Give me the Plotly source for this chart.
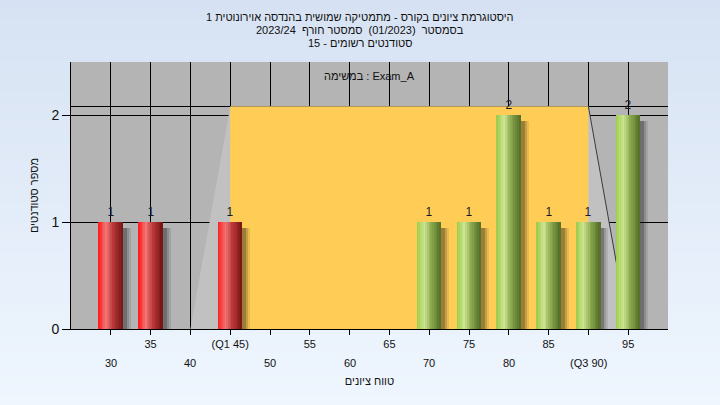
import plotly.graph_objects as go

# ---- data ----
grade_bins = [30, 35, 45, 70, 75, 80, 85, 90, 95]
student_counts = [1, 1, 1, 1, 1, 2, 1, 1, 2]
tick_vals = [30, 35, 40, 45, 50, 55, 60, 65, 70, 75, 80, 85, 90, 95]
tick_row1_vals = [35, 45, 55, 65, 75, 85, 95]
tick_row1_text = ["35", "(Q1 45)", "55", "65", "75", "85", "95"]
tick_row2_vals = [30, 40, 50, 60, 70, 80, 90]
tick_row2_text = ["30", "40", "50", "60", "70", "80", "(Q3 90)"]
q1, q3 = 45, 90
pass_mark = 55
right_axis_ticks = [0, 1]
left_axis_ticks = [0, 1, 2]
y_range = [0, 2.5]
y2_range = [0, 1.2]

title_lines = [
    "היסטוגרמת ציונים בקורס - מתמטיקה שמושית בהנדסה אוירונוטית 1",
    "בסמסטר  (01/2023)  סמסטר חורף  2023/24",
    "סטודנטים רשומים - 15",
]
task_label = "במשימה : Exam_A"
x_title = "טווח ציונים"
y_title = "מספר סטודנטים"

FONT = "Liberation Sans, DejaVu Sans, Arial, sans-serif"

# ---- gradients ----
def lerp(c1, c2, t):
    return tuple(int(round(a + (b - a) * t)) for a, b in zip(c1, c2))

def grad(stops, t):
    for (t0, c0), (t1, c1) in zip(stops, stops[1:]):
        if t0 <= t <= t1:
            return lerp(c0, c1, (t - t0) / (t1 - t0))
    return stops[-1][1]

red_stops = [(0.0, (255, 22, 22)), (0.32, (240, 118, 118)), (0.6, (190, 58, 58)), (1.0, (118, 20, 20))]
green_stops = [(0.0, (152, 202, 72)), (0.32, (205, 228, 145)), (0.6, (140, 170, 80)), (1.0, (82, 108, 38))]

BAR_W = 3.0
N = 14
fig = go.Figure()

# soft shadows
for off, alpha in [(1.0, 0.10), (0.75, 0.15), (0.5, 0.25)]:
    fig.add_trace(go.Bar(
        x=grade_bins, y=[v - 0.05 for v in student_counts],
        width=BAR_W, offset=-BAR_W / 2 + off,
        marker=dict(color=f"rgba(20,20,20,{alpha})", line=dict(width=0)),
        hoverinfo="skip", showlegend=False))

for i in range(N):
    t = (i + 0.5) / N
    cols = ["rgb(%d,%d,%d)" % grad(red_stops if g < pass_mark else green_stops, t) for g in grade_bins]
    fig.add_trace(go.Bar(
        x=grade_bins, y=student_counts,
        width=BAR_W / N + 0.02, offset=-BAR_W / 2 + i * BAR_W / N,
        marker=dict(color=cols, line=dict(width=0)),
        hoverinfo="skip", showlegend=False))

# value labels
fig.add_trace(go.Bar(
    x=grade_bins, y=student_counts, width=BAR_W,
    marker=dict(color="rgba(0,0,0,0)", line=dict(width=0)),
    text=[str(v) for v in student_counts], textposition="outside",
    textfont=dict(family=FONT, size=12, color="#1a1a2a"),
    cliponaxis=False, hoverinfo="skip", showlegend=False))

# ---- background gradient shapes ----
h, w = 405, 720
ml, mr, mt, mb = 71, 52, 62, 76
pw, ph = w - ml - mr, h - mt - mb
shapes = []
NB = 40
top_c, bot_c = (214, 226, 243), (239, 246, 254)
y_lo, y_hi = -mb / ph, 1 + mt / ph
x_lo, x_hi = -ml / pw - 0.02, 1 + mr / pw + 0.02
for k in range(NB):
    y0 = y_lo + (y_hi - y_lo) * k / NB
    y1 = y_lo + (y_hi - y_lo) * (k + 1) / NB + 0.01
    c = lerp(bot_c, top_c, (k + 0.5) / NB)
    shapes.append(dict(type="rect", xref="paper", yref="paper", x0=x_lo, x1=x_hi, y0=y0, y1=y1,
                       fillcolor="rgb(%d,%d,%d)" % c, line=dict(width=0), layer="below"))
shapes.append(dict(type="rect", xref="paper", yref="paper", x0=0, x1=1, y0=0, y1=1,
                   fillcolor="#b4b4b4", line=dict(width=0), layer="below"))

# quartile region (right-axis value 1 expressed on the left axis scale)
top = 1 * (y_range[1] - y_range[0]) / (y2_range[1] - y2_range[0])
shapes.append(dict(type="path", xref="x", yref="y",
                   path=f"M {q1-5},0 L {q1},{top} L {q3},{top} L {q3+5},0 Z",
                   fillcolor="#c1c1c1", line=dict(width=0), layer="between"))
shapes.append(dict(type="rect", xref="x", yref="y", x0=q1, x1=q3, y0=0, y1=top,
                   fillcolor="#ffcc55", line=dict(width=0), layer="between"))
shapes.append(dict(type="line", xref="x", yref="y", x0=q3, y0=top, x1=q3 + 5, y1=0,
                   line=dict(color="#3a3a3a", width=1), layer="between"))
shapes.append(dict(type="line", xref="paper", yref="y", x0=0, y0=top, x1=1, y1=top,
                   line=dict(color="black", width=1), layer="between"))

annotations = []
# title lines
for s, ypx in zip(title_lines, [17, 30, 43]):
    annotations.append(dict(text=s, xref="paper", yref="paper",
                            x=(360 - ml) / pw, y=(h - mb - ypx) / ph,
                            xanchor="center", yanchor="middle", showarrow=False,
                            font=dict(family=FONT, size=11, color="#111111")))
annotations.append(dict(text=task_label, xref="paper", yref="paper", x=0.5, y=(h - mb - 76) / ph,
                        xanchor="center", yanchor="middle", showarrow=False,
                        font=dict(family=FONT, size=11, color="#111111")))
# second row of tick labels
for v, s in zip(tick_row2_vals, tick_row2_text):
    annotations.append(dict(text=s, xref="x", yref="paper", x=v, y=0, yanchor="top",
                            yshift=-26, showarrow=False,
                            font=dict(family=FONT, size=11, color="#111111")))

fig.update_layout(
    width=720, height=405,
    margin=dict(l=ml, r=mr, t=mt, b=mb, autoexpand=False),
    paper_bgcolor="#e4edf9", plot_bgcolor="#b4b4b4",
    barmode="overlay", bargap=0,
    showlegend=False,
    font=dict(family=FONT, size=11, color="#111111"),
    shapes=shapes,
    annotations=annotations,
    xaxis=dict(range=[25, 100], tickmode="array", tickvals=tick_vals,
               ticktext=[tick_row1_text[tick_row1_vals.index(v)] if v in tick_row1_vals else "" for v in tick_vals],
               showgrid=True, gridcolor="black", gridwidth=1,
               showline=True, linecolor="black", linewidth=1,
               ticks="outside", ticklen=5, tickcolor="black",
               zeroline=False, tickfont=dict(size=11, color="#111111"),
               title=dict(text=x_title, standoff=28, font=dict(size=11, color="#111111"))),
    yaxis=dict(range=y_range, tickmode="array", tickvals=left_axis_ticks,
               showgrid=True, gridcolor="black", gridwidth=1,
               showline=True, linecolor="black", linewidth=1,
               ticks="outside", ticklen=8, tickcolor="black", zeroline=False,
               tickfont=dict(size=14, color="#111111"),
               title=dict(text=y_title, standoff=10, font=dict(size=11, color="#111111"))),
    yaxis2=dict(range=y2_range, overlaying="y", side="right", anchor="x",
                tickmode="array", tickvals=right_axis_ticks,
                showgrid=False, showline=True, linecolor="black", linewidth=1,
                ticks="outside", ticklen=8, tickcolor="black", zeroline=False,
                tickfont=dict(size=14, color="#1a2a5a")),
)

fig.write_html("out.html", config={"displayModeBar": False},
               post_script="document.body.style.margin='0';document.body.style.padding='0';")
